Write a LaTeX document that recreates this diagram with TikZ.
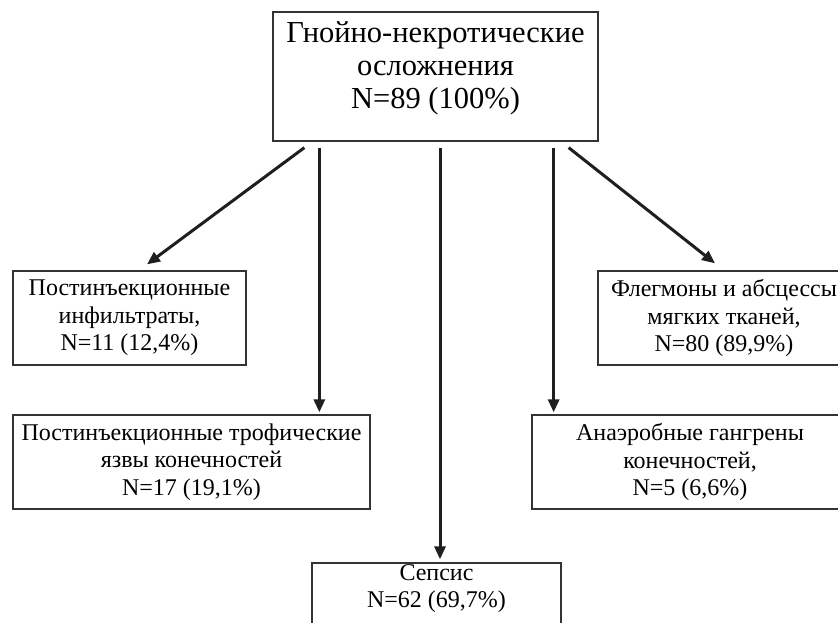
\documentclass[tikz,border=0pt]{standalone}
\usepackage{fontspec}
\setmainfont{Liberation Serif}
\usetikzlibrary{arrows.meta,calc}
\begin{document}
\begin{tikzpicture}[x=1pt,y=-1pt,
  box/.style={draw=black!80, line width=1.3pt, inner sep=0pt, align=center,
    font=\fontsize{24}{27.5}\selectfont},
  plain/.style={inner sep=0pt, align=center},
  arr/.style={line width=3pt, draw=black!88,
    -{Triangle[length=13pt,width=11pt]}},
]
\useasboundingbox (0,0) rectangle (838,623);
\clip (0,0) rectangle (838,623);
% top
\node[box, minimum width=325pt, minimum height=129pt] (top) at (435.5,76.5) {};
\node[plain, font=\fontsize{30.5}{33}\selectfont] (toptext) at (435.5,68.5)
  {Гнойно-некротические\\осложнения\\N=89 (100\%)};
% second row
\node[box, minimum width=233pt, minimum height=94pt] (left) at (129.5,318)
  {Постинъекционные\\инфильтраты,\\N=11 (12,4\%)};
\node[box, minimum width=252pt, minimum height=94pt] (right) at (724,318)
  {Флегмоны и абсцессы\\мягких тканей,\\N=80 (89,9\%)};
% third row
\node[box, minimum width=357pt, minimum height=94pt] (trophic) at (191.5,462)
  {Постинъекционные трофические\\язвы конечностей\\N=17 (19,1\%)};
\node[box, minimum width=316pt, minimum height=94pt] (anaer) at (690,462)
  {Анаэробные гангрены\\конечностей,\\N=5 (6,6\%)};
% sepsis
\node[box, minimum width=249pt, minimum height=80pt] (sepsis) at (436.5,603) {};
\node[plain, font=\fontsize{24}{27}\selectfont] (sepsistext) at (436.5,588.5)
  {Сепсис\\N=62 (69,7\%)};
% connector start points
\coordinate (s1) at ($(top.south west)+(32,6)$);
\coordinate (s2) at ($(top.south west)+(47,6)$);
\coordinate (s3) at ($(top.south)+(4.5,6)$);
\coordinate (s4) at ($(top.south east)+(-45,6)$);
\coordinate (s5) at ($(top.south east)+(-30,6)$);
\draw[arr] (s1) -- ($(left.north)+(17.5,-6)$);
\draw[arr, shorten >=2pt] (s2) -- (s2 |- trophic.north);
\draw[arr, shorten >=3pt] (s3) -- (s3 |- sepsis.north);
\draw[arr, shorten >=2pt] (s4) -- (s4 |- anaer.north);
\draw[arr] (s5) -- ($(right.north)+(-9,-7)$);
\end{tikzpicture}
\end{document}
